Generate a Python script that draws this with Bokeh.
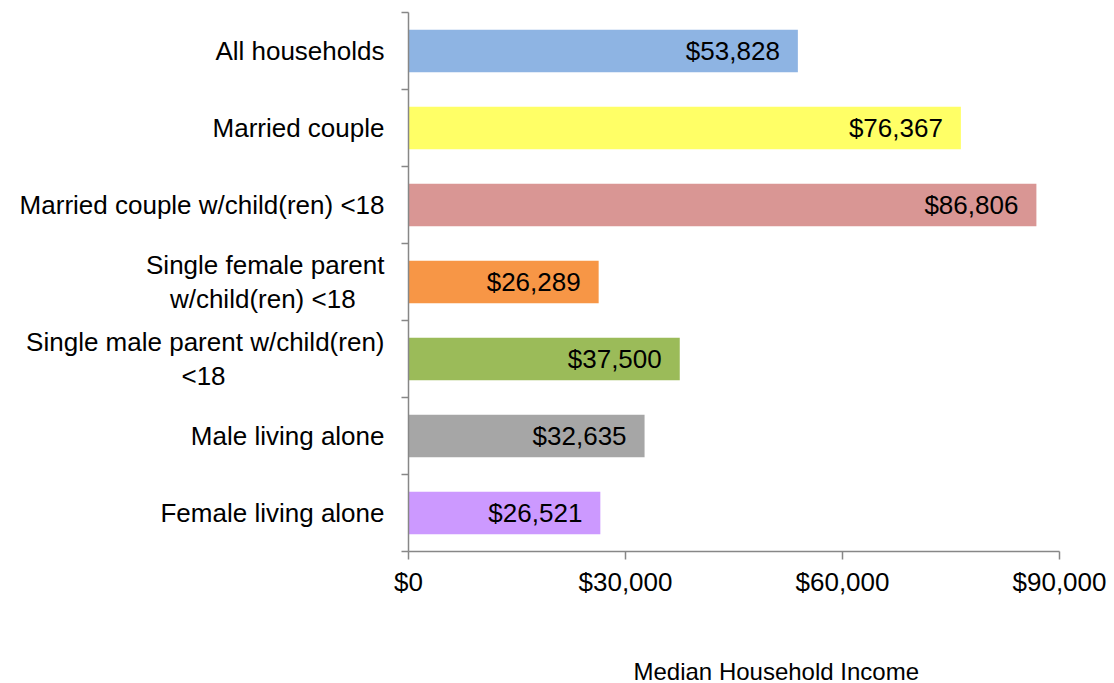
from bokeh.plotting import figure
from bokeh.models import Range1d, FixedTicker, NumeralTickFormatter, ColumnDataSource, Title
from bokeh.core.properties import value
from bokeh.embed import file_html
from bokeh.resources import INLINE

NB = "\u00a0"
categories = [
    "All households",
    "Married couple",
    "Married couple w/child(ren) <18",
    "Single female parent\nw/child(ren) <18" + NB * 4,
    "Single male parent w/child(ren)\n<18" + NB * 22,
    "Male living alone",
    "Female living alone",
]
incomes = [53828, 76367, 86806, 26289, 37500, 32635, 26521]
value_labels = ["$53,828", "$76,367", "$86,806", "$26,289", "$37,500", "$32,635", "$26,521"]
colors = ["#8EB4E3", "#FFFF66", "#D99694", "#F79646", "#9BBB59", "#A6A6A6", "#CC99FF"]
x_ticks = [0, 30000, 60000, 90000]
x_title = "Median Household Income"

n = len(categories)
ypos = [n - i - 0.5 for i in range(n)]
bounds = list(range(n + 1))

FONT = "Liberation Sans"

p = figure(width=1108, height=683, output_backend="svg", toolbar_location=None,
           x_range=Range1d(0, 90000), y_range=Range1d(0, n),
           min_border_left=408, min_border_right=49, min_border_top=12, min_border_bottom=132)
p.frame_width = 651
p.frame_height = 539
p.outline_line_color = None
p.grid.visible = False
p.background_fill_color = "white"
p.border_fill_color = "white"

src = ColumnDataSource(dict(y=ypos, right=incomes, color=colors, lab=value_labels))
p.hbar(y="y", left=0, right="right", height=0.55, fill_color="color", line_color=None, source=src)
p.text(x="right", y="y", text="lab", x_offset=-18, text_align="right", text_baseline="middle",
       text_font=value(FONT), text_font_size="26px", text_color="black", source=src)

axis_color = "#878787"
xa = p.xaxis[0]
xa.ticker = FixedTicker(ticks=x_ticks)
xa.formatter = NumeralTickFormatter(format="$0,0")
xa.axis_line_color = axis_color
xa.axis_line_width = 1.5
xa.major_tick_line_color = axis_color
xa.major_tick_line_width = 1.5
xa.major_tick_in = 0
xa.major_tick_out = 8
xa.minor_tick_line_color = None
xa.major_label_text_font = FONT
xa.major_label_text_font_size = "26px"
xa.major_label_text_color = "black"
xa.major_label_standoff = 7

ya = p.yaxis[0]
ya.ticker = FixedTicker(ticks=ypos, minor_ticks=bounds)
ya.major_label_overrides = {float(y): c for y, c in zip(ypos, categories)}
ya.axis_line_color = axis_color
ya.axis_line_width = 1.5
ya.major_tick_line_color = None
ya.major_tick_in = 0
ya.major_tick_out = 0
ya.minor_tick_line_color = axis_color
ya.minor_tick_line_width = 1.5
ya.minor_tick_in = 0
ya.minor_tick_out = 7
ya.major_label_standoff = 17
ya.major_label_text_font = FONT
ya.major_label_text_font_size = "26px"
ya.major_label_text_color = "black"
ya.major_label_text_line_height = 1.12

p.add_layout(Title(text=x_title, align="left", offset=225, standoff=112,
                   text_font=FONT, text_font_size="24px", text_font_style="normal",
                   text_color="black"), "below")

open("out.html", "w").write(file_html(p, INLINE))
